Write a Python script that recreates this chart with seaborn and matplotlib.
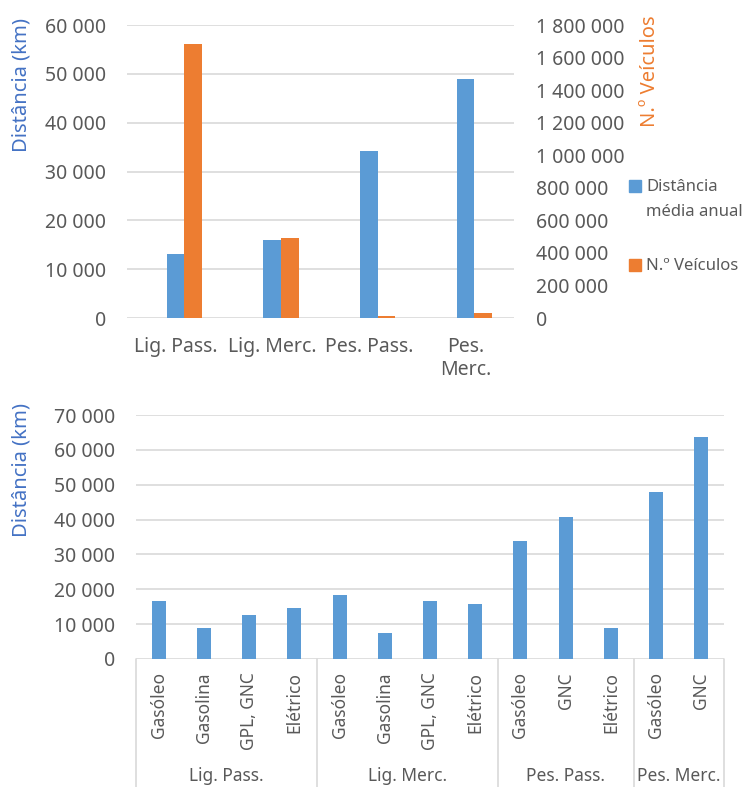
import matplotlib
matplotlib.use("Agg")
import matplotlib.pyplot as plt
import matplotlib.patches as mpatches
import seaborn as sns
import pandas as pd
from matplotlib.ticker import FuncFormatter, MultipleLocator
from matplotlib.transforms import blended_transform_factory

# ---- data -------------------------------------------------------------
segments = ["Lig. Pass.", "Lig. Merc.", "Pes. Pass.", "Pes. Merc."]
segment_labels = ["Lig. Pass.", "Lig. Merc.", "Pes. Pass.", "Pes.\nMerc."]
distancia_media = [13100, 15900, 34100, 48900]
n_veiculos = [1683000, 489000, 12000, 31000]

fuel_segment = ["Lig. Pass."] * 4 + ["Lig. Merc."] * 4 + ["Pes. Pass."] * 3 + ["Pes. Merc."] * 2
fuel_type = ["Gasóleo", "Gasolina", "GPL, GNC", "Elétrico",
             "Gasóleo", "Gasolina", "GPL, GNC", "Elétrico",
             "Gasóleo", "GNC", "Elétrico",
             "Gasóleo", "GNC"]
fuel_distancia = [16700, 8800, 12600, 14600,
                  18400, 7500, 16600, 15700,
                  33800, 40600, 8800,
                  47800, 63600]

# ---- style ------------------------------------------------------------
sns.set_style("white")
plt.rcParams["font.family"] = ["Noto Sans", "DejaVu Sans"]

BLUE = "#5B9BD5"
ORANGE = "#ED7D31"
TICK = "#595959"
GRID = "#D9D9D9"
TITLE_BLUE = "#4472C4"

W, H = 747, 787
fig = plt.figure(figsize=(W / 100, H / 100), dpi=100)


def px_axes(left, top, right, bottom):
    return fig.add_axes([left / W, 1 - bottom / H, (right - left) / W, (bottom - top) / H])


def spaced(v, _pos=None):
    return f"{int(round(v)):,}".replace(",", " ")


# ---- top chart: average distance vs number of vehicles ----------------
dist_name = "Distância média anual"
veh_name = "N.º Veículos"
slots = [" ", dist_name, veh_name]  # first slot kept empty
palette = {" ": "white", dist_name: BLUE, veh_name: ORANGE}

df_top = pd.DataFrame({
    "segmento": segments * 2,
    "serie": [dist_name] * len(segments) + [veh_name] * len(segments),
    "valor": distancia_media + n_veiculos,
})

ax1 = px_axes(127, 25, 514, 318)
ax2 = ax1.twinx()

sns.barplot(data=df_top[df_top["serie"] == dist_name], x="segmento", y="valor",
            hue="serie", hue_order=slots, order=segments, palette=palette,
            dodge=True, width=0.55, linewidth=0, saturation=1, legend=False, ax=ax1)
sns.barplot(data=df_top[df_top["serie"] == veh_name], x="segmento", y="valor",
            hue="serie", hue_order=slots, order=segments, palette=palette,
            dodge=True, width=0.55, linewidth=0, saturation=1, legend=False, ax=ax2)

ax1.set_ylim(0, 60000)
ax1.yaxis.set_major_locator(MultipleLocator(10000))
ax1.yaxis.set_major_formatter(FuncFormatter(spaced))
ax2.set_ylim(0, 1800000)
ax2.yaxis.set_major_locator(MultipleLocator(200000))
ax2.yaxis.set_major_formatter(FuncFormatter(spaced))
ax1.set_xlim(-0.5, 3.5)

ax1.set_axisbelow(True)
ax1.yaxis.grid(True, color=GRID, linewidth=1.2)
ax2.grid(False)
for a in (ax1, ax2):
    for s in a.spines.values():
        s.set_visible(False)
    a.set_xlabel("")
    a.set_ylabel("")

ax1.set_xticks(range(len(segments)))
ax1.set_xticklabels(segment_labels)
ax1.tick_params(axis="x", length=0, pad=14, labelsize=14, labelcolor=TICK)
ax1.tick_params(axis="y", length=0, pad=15, labelsize=14, labelcolor=TICK)
ax2.tick_params(axis="y", length=0, pad=16, labelsize=14, labelcolor=TICK)

fig.text(22 / W, 1 - 18 / H, "Distância (km)", rotation=90, ha="center", va="top",
         fontsize=14.5, color=TITLE_BLUE)
fig.text(650 / W, 1 - 15 / H, "N.º Veículos", rotation=90, ha="center", va="top",
         fontsize=14.5, color=ORANGE)

# legend: colour squares with text beside them
legend_entries = [(BLUE, ["Distância", "média anual"], 191),
                  (ORANGE, [veh_name], 270)]
for colour, lines, baseline in legend_entries:
    fig.patches.append(mpatches.Rectangle((629 / W, 1 - (baseline + 1) / H), 12 / W, 12 / H,
                                          transform=fig.transFigure, color=colour))
    for i, line in enumerate(lines):
        fig.text(646 / W, 1 - (baseline + 25 * i) / H, line, ha="left", va="baseline",
                 fontsize=12, color=TICK)

# ---- bottom chart: distance by fuel type ------------------------------
df_fuel = pd.DataFrame({
    "pos": list(range(len(fuel_type))),
    "segmento": fuel_segment,
    "combustivel": fuel_type,
    "distancia": fuel_distancia,
})

ax3 = px_axes(136, 415, 724, 659)
sns.barplot(data=df_fuel, x="pos", y="distancia", color=BLUE, width=0.31,
            linewidth=0, saturation=1, ax=ax3)
ax3.set_xlim(-0.5, len(fuel_type) - 0.5)
ax3.set_ylim(0, 70000)
ax3.yaxis.set_major_locator(MultipleLocator(10000))
ax3.yaxis.set_major_formatter(FuncFormatter(spaced))
ax3.set_axisbelow(True)
ax3.yaxis.grid(True, color=GRID, linewidth=1.2)
for s in ax3.spines.values():
    s.set_visible(False)
ax3.set_xlabel("")
ax3.set_ylabel("")
ax3.set_xticks(range(len(fuel_type)))
ax3.set_xticklabels(fuel_type, rotation=90, ha="center", va="top")
ax3.tick_params(axis="x", length=0, pad=9.5, labelsize=12.5, labelcolor=TICK)
ax3.tick_params(axis="y", length=0, pad=15, labelsize=14, labelcolor=TICK)

# group boxes under the category labels
trans = blended_transform_factory(ax3.transData, ax3.transAxes)
groups = list(dict.fromkeys(fuel_segment))
start = -0.5
bounds = [start]
for g in groups:
    n = fuel_segment.count(g)
    ax3.text(start + n / 2, -0.478, g, transform=trans, ha="center", va="center",
             fontsize=12.5, color=TICK)
    start += n
    bounds.append(start)
for b in bounds:
    ax3.plot([b, b], [0, -0.55], transform=trans, color=GRID, linewidth=1.2,
             clip_on=False)

fig.text(22 / W, 1 - 403 / H, "Distância (km)", rotation=90, ha="center", va="top",
         fontsize=14.5, color=TITLE_BLUE)

fig.savefig("out.png", dpi=100, facecolor="white")
